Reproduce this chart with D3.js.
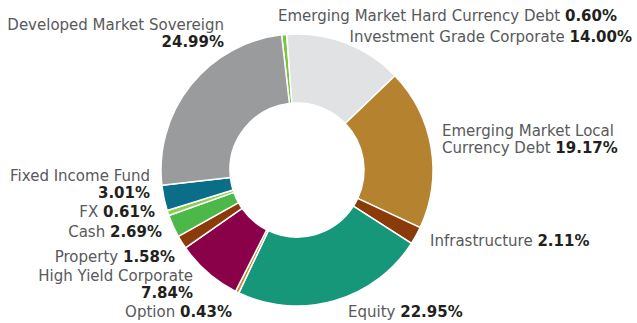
<!DOCTYPE html>
<html>
<head>
<meta charset="utf-8">
<script src="https://cdn.jsdelivr.net/npm/d3@7"></script>
<style>
  html, body { margin: 0; padding: 0; background: #fff; }
  svg { display: block; }
  .name { fill: #58595b; font-weight: 400; }
  .value { fill: #231f20; font-weight: 700; }
</style>
</head>
<body>
<svg id="chart" width="637" height="323"></svg>
<script>
// Asset allocation, clockwise from the top of the ring
const categories = [
  "Emerging Market Hard Currency Debt",
  "Investment Grade Corporate",
  "Emerging Market Local Currency Debt",
  "Infrastructure",
  "Equity",
  "Option",
  "High Yield Corporate",
  "Property",
  "Cash",
  "FX",
  "Fixed Income Fund",
  "Developed Market Sovereign"
];
const weights = [0.60, 14.00, 19.17, 2.11, 22.95, 0.43, 7.84, 1.58, 2.69, 0.61, 3.01, 24.99];
const colors = [
  "#7dc242", "#e1e2e3", "#b5832f", "#8b3b09", "#16977a", "#c98a2c",
  "#8a0049", "#8b3b09", "#4db84a", "#8dcf4c", "#0a6e89", "#9a9b9d"
];

// Label placement: anchor point, text-anchor and how the label wraps
// ("inline": name and value on one line, "below": value on a second line,
//  "wrap": name broken after `breakAfter` words, value follows on line 2)
const labelLayout = [
  { x: 617, y: 16,  anchor: "end",   mode: "inline" },
  { x: 632, y: 37,  anchor: "end",   mode: "inline" },
  { x: 442, y: 131, anchor: "start", mode: "wrap", breakAfter: 3 },
  { x: 430, y: 241, anchor: "start", mode: "inline" },
  { x: 348, y: 312, anchor: "start", mode: "inline" },
  { x: 232, y: 312, anchor: "end",   mode: "inline" },
  { x: 193, y: 276, anchor: "end",   mode: "below" },
  { x: 175, y: 257, anchor: "end",   mode: "inline" },
  { x: 162, y: 232, anchor: "end",   mode: "inline" },
  { x: 155, y: 212, anchor: "end",   mode: "inline" },
  { x: 150, y: 176, anchor: "end",   mode: "below" },
  { x: 224, y: 25,  anchor: "end",   mode: "below" }
];

const width = 637, height = 323;
const cx = 297, cy = 170;
const outerR = 136, innerR = 67;
const startDeg = -6.5;
const fontSize = 15, lineGap = 17;

const svg = d3.select("#chart");
svg.attr("font-family", "'DejaVu Sans', sans-serif").attr("font-size", fontSize);

const data = categories.map((c, i) => ({ name: c, value: weights[i], color: colors[i], layout: labelLayout[i] }));

const pie = d3.pie()
  .value(d => d.value)
  .sort(null)
  .startAngle(startDeg * Math.PI / 180)
  .endAngle((startDeg + 360) * Math.PI / 180);

const arc = d3.arc().innerRadius(innerR).outerRadius(outerR);

const g = svg.append("g").attr("transform", `translate(${cx},${cy})`);

g.selectAll("path")
  .data(pie(data))
  .join("path")
  .attr("d", arc)
  .attr("fill", d => d.data.color)
  .attr("stroke", "#ffffff")
  .attr("stroke-width", 1.5)
  .attr("stroke-linejoin", "round");

const fmt = v => d3.format(".2f")(v) + "%";

data.forEach(d => {
  const L = d.layout;
  const text = svg.append("text")
    .attr("text-anchor", L.anchor)
    .attr("dominant-baseline", "central");
  const val = fmt(d.value);
  if (L.mode === "inline") {
    const t = text.append("tspan").attr("x", L.x).attr("y", L.y);
    t.append("tspan").attr("class", "name").text(d.name + " ");
    t.append("tspan").attr("class", "value").text(val);
  } else if (L.mode === "below") {
    text.append("tspan").attr("class", "name").attr("x", L.x).attr("y", L.y).text(d.name);
    text.append("tspan").attr("class", "value").attr("x", L.x).attr("y", L.y + lineGap).text(val);
  } else {
    const words = d.name.split(" ");
    text.append("tspan").attr("class", "name").attr("x", L.x).attr("y", L.y)
      .text(words.slice(0, L.breakAfter).join(" "));
    const t2 = text.append("tspan").attr("x", L.x).attr("y", L.y + lineGap);
    t2.append("tspan").attr("class", "name").text(words.slice(L.breakAfter).join(" ") + " ");
    t2.append("tspan").attr("class", "value").text(val);
  }
});
</script>
</body>
</html>
